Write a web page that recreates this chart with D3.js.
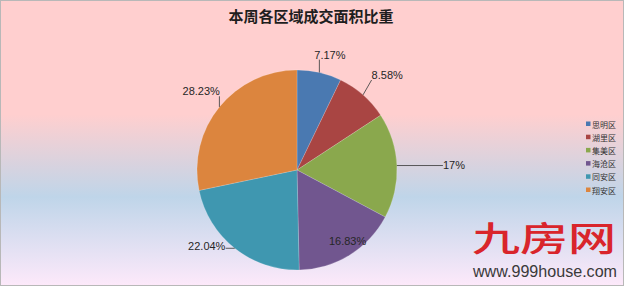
<!DOCTYPE html>
<html>
<head>
<meta charset="utf-8">
<script src="https://cdn.jsdelivr.net/npm/d3@7"></script>
<style>
  html, body { margin: 0; padding: 0; background: #fff; }
  svg { display: block; }
</style>
</head>
<body>
<svg id="chart" width="625" height="287"></svg>
<script>
// District share of this week's transacted floor area (%)
const districts = ["思明区", "湖里区", "集美区", "海沧区", "同安区", "翔安区"];
const shares = [7.17, 8.58, 17, 16.83, 22.04, 28.23];
const shareLabels = ["7.17%", "8.58%", "17%", "16.83%", "22.04%", "28.23%"];
const sliceColors = ["#4a79b1", "#a94543", "#8aa84d", "#71568f", "#3f97b0", "#dc853e"];

// Label placement: angle nudge (deg) from the slice middle and distance from the centre
const labelAngleNudge = [3, 2.2, 0.7, -4, 11.4, 0.3];
const labelDistance = [120, 131, 157, 87, 118, 124];

const W = 625, H = 287;
const cx = 297, cy = 170, R = 100;
const svg = d3.select("#chart");

// background gradient
const defs = svg.append("defs");
const grad = defs.append("linearGradient").attr("id", "bg")
  .attr("x1", 0).attr("y1", 0).attr("x2", 0).attr("y2", 1);
[["0%", "#ffcfcf"], ["40%", "#ffcfcf"], ["69%", "#bfd5e9"], ["100%", "#fde9fa"]]
  .forEach(([o, c]) => grad.append("stop").attr("offset", o).attr("stop-color", c));

svg.append("rect").attr("x", 0.5).attr("y", 0.5).attr("width", W - 2).attr("height", H - 2)
  .attr("fill", "url(#bg)").attr("stroke", "#b8b8b8").attr("stroke-width", 1);

// title
svg.append("text")
  .attr("x", 311).attr("y", 22)
  .attr("text-anchor", "middle")
  .attr("font-family", "'Noto Sans CJK SC', sans-serif")
  .attr("font-weight", "bold")
  .attr("font-size", 15)
  .attr("fill", "#1e1e1e")
  .text("本周各区域成交面积比重");

// pie
const pie = d3.pie().sort(null).value(d => d);
const arcs = pie(shares);
const arc = d3.arc().innerRadius(0).outerRadius(R);

const g = svg.append("g").attr("transform", `translate(${cx},${cy})`);
g.selectAll("path.slice").data(arcs).enter().append("path")
  .attr("class", "slice")
  .attr("d", arc)
  .attr("fill", (d, i) => sliceColors[i])
  .attr("stroke", "rgba(255,255,255,0.35)")
  .attr("stroke-width", 0.5);

// data labels with leader lines
const rad = Math.PI / 180;
const labelG = svg.append("g");
arcs.forEach((d, i) => {
  const mid = (d.startAngle + d.endAngle) / 2;
  const a = mid + labelAngleNudge[i] * rad;
  const lx = cx + Math.sin(a) * labelDistance[i];
  const ly = cy - Math.cos(a) * labelDistance[i];
  const t = labelG.append("text")
    .attr("x", lx).attr("y", ly)
    .attr("text-anchor", "middle")
    .attr("dominant-baseline", "central")
    .attr("font-family", "'Liberation Sans', Arial, sans-serif")
    .attr("font-size", 11)
    .attr("fill", "#262626")
    .text(shareLabels[i]);
  if (labelDistance[i] > R) {
    const bb = t.node().getBBox();
    const ax = cx + Math.sin(mid) * R;
    const ay = cy - Math.cos(mid) * R;
    const px = Math.max(bb.x, Math.min(ax, bb.x + bb.width));
    const py = Math.max(bb.y + 2, Math.min(ay, bb.y + bb.height - 1));
    labelG.insert("path", "text")
      .attr("d", d3.line()([[ax, ay], [px, py]]))
      .attr("fill", "none")
      .attr("stroke", "#4a4a4a")
      .attr("stroke-width", 0.9);
  }
});

// legend
const legend = svg.append("g").attr("transform", "translate(586,124)");
const rowH = 13.2;
districts.forEach((name, i) => {
  const row = legend.append("g").attr("transform", `translate(0,${i * rowH})`);
  row.append("rect").attr("x", 0).attr("y", -2.5).attr("width", 4.5).attr("height", 4.5)
    .attr("fill", sliceColors[i]);
  row.append("text")
    .attr("x", 6).attr("y", 0)
    .attr("dominant-baseline", "central")
    .attr("font-family", "'Noto Sans CJK SC', sans-serif")
    .attr("font-size", 8)
    .attr("fill", "#333")
    .text(name);
});

// site mark
const mark = svg.append("g");
mark.append("text")
  .attr("x", 472).attr("y", 251)
  .attr("font-family", "'Noto Sans CJK SC', sans-serif")
  .attr("font-weight", 500)
  .attr("font-size", 34)
  .attr("textLength", 144)
  .attr("lengthAdjust", "spacingAndGlyphs")
  .attr("fill", "#d9252b")
  .text("九房网");
mark.append("text")
  .attr("x", 473).attr("y", 277)
  .attr("font-family", "'Liberation Sans', Arial, sans-serif")
  .attr("font-size", 16)
  .attr("textLength", 144)
  .attr("lengthAdjust", "spacingAndGlyphs")
  .attr("fill", "#3a3a3a")
  .text("www.999house.com");
</script>
</body>
</html>
